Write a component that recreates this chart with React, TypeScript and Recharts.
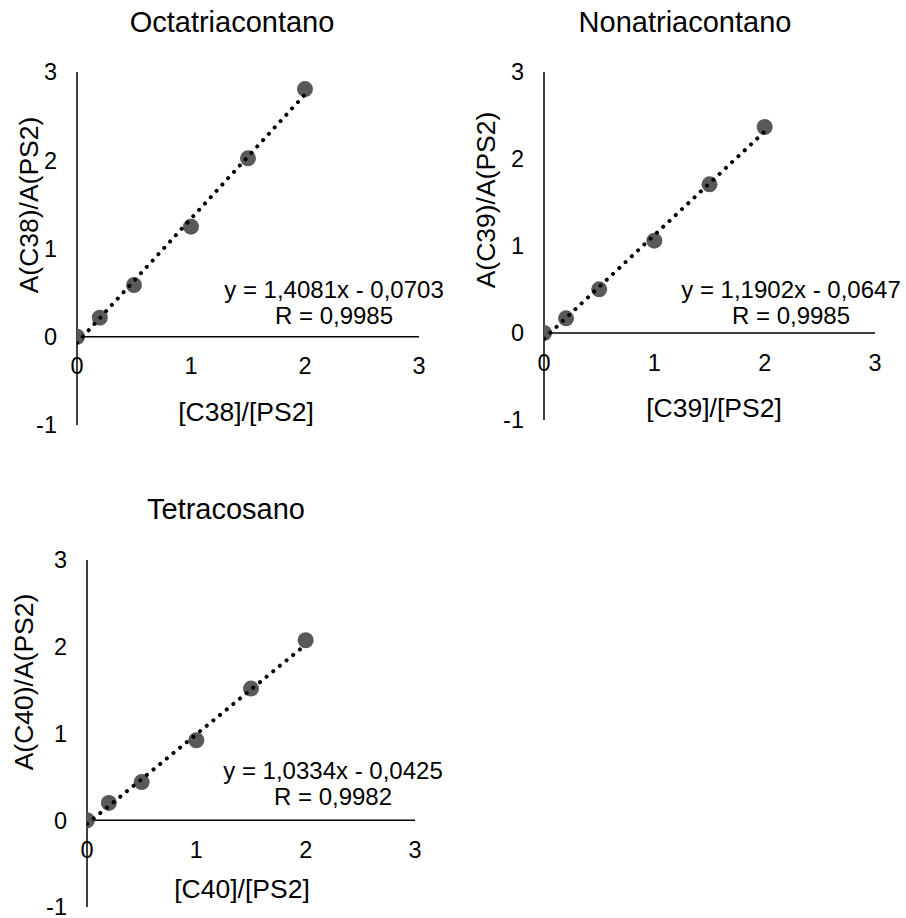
import { ScatterChart, Scatter, XAxis, YAxis, ReferenceLine, ReferenceDot } from 'recharts';

// dados
const concentrations = [0, 0.2, 0.5, 1, 1.5, 2];
const ratioC38 = [0, 0.216, 0.586, 1.247, 2.022, 2.807];
const ratioC39 = [0, 0.169, 0.502, 1.061, 1.709, 2.368];
const ratioC40 = [0, 0.2, 0.44, 0.922, 1.518, 2.075];

// linha de tendência (extremos x = 0 e x = 2)
const trendX = [0, 2];
const trendC38 = [-0.0703, 2.7459];
const trendC39 = [-0.0647, 2.3157];
const trendC40 = [-0.0425, 2.0243];

const xTicks = [0, 1, 2, 3];
const yTicks = [-1, 0, 1, 2, 3];

const titles = ['Octatriacontano', 'Nonatriacontano', 'Tetracosano'];
const xLabels = ['[C38]/[PS2]', '[C39]/[PS2]', '[C40]/[PS2]'];
const yLabels = ['A(C38)/A(PS2)', 'A(C39)/A(PS2)', 'A(C40)/A(PS2)'];
const equations = ['y = 1,4081x - 0,0703', 'y = 1,1902x - 0,0647', 'y = 1,0334x - 0,0425'];
const rValues = ['R = 0,9985', 'R = 0,9985', 'R = 0,9982'];

const FONT = '"Liberation Sans", Arial, sans-serif';

type Pos = [number, number];

interface Layout {
  left: number;
  top: number;
  width: number;
  height: number;
  margin: { top: number; right: number; bottom: number; left: number };
  title: Pos;
  xLabel: Pos;
  yLabel: Pos;
  eq: Pos;
}

const layouts: Layout[] = [
  { left: 0, top: 0, width: 453, height: 460, margin: { top: 72, right: 34, bottom: 35, left: 77 }, title: [232, 23], xLabel: [246, 413], yLabel: [30, 205], eq: [334, 303] },
  { left: 453, top: 0, width: 453, height: 460, margin: { top: 72, right: 31, bottom: 40, left: 91 }, title: [232, 23], xLabel: [261, 409], yLabel: [34, 200], eq: [338, 303] },
  { left: 0, top: 460, width: 453, height: 458, margin: { top: 100, right: 38, bottom: 11, left: 87 }, title: [226, 50], xLabel: [242, 430], yLabel: [25, 222], eq: [333, 324] },
];

const Caption = ({ pos, size, rotate, children }: any) => (
  <div
    style={{
      position: 'absolute',
      left: pos[0],
      top: pos[1],
      transform: `translate(-50%, -50%)${rotate ? ' rotate(-90deg)' : ''}`,
      fontFamily: FONT,
      fontSize: size,
      lineHeight: 1.1,
      color: '#000',
      whiteSpace: 'nowrap',
      textAlign: 'center',
    }}
  >
    {children}
  </div>
);

const tickFont = { fontSize: 23.5, fill: '#000', fontFamily: FONT };

function CalibrationChart({ index, values, trend }: { index: number; values: number[]; trend: number[] }) {
  const l = layouts[index];
  const points = concentrations.map((x, i) => ({ x, y: values[i] }));
  const trendPoints = trendX.map((x, i) => ({ x, y: trend[i] }));

  return (
    <div style={{ position: 'absolute', left: l.left, top: l.top, width: l.width, height: l.height }}>
      <ScatterChart width={l.width} height={l.height} margin={l.margin}>
        <XAxis type="number" dataKey="x" domain={[0, 3]} ticks={xTicks} allowDataOverflow hide />
        <YAxis type="number" dataKey="y" domain={[-1, 3]} ticks={yTicks} allowDataOverflow hide />
        <ReferenceLine x={0} stroke="#000" strokeWidth={1.5} />
        <ReferenceLine y={0} stroke="#000" strokeWidth={1.5} />
        {xTicks.map((t) => (
          <ReferenceDot key={'x' + t} x={t} y={0} r={0} fill="none" stroke="none"
            label={{ value: String(t), position: 'bottom', offset: 21, ...tickFont }} />
        ))}
        {yTicks.map((t) => (
          <ReferenceDot key={'y' + t} x={0} y={t} r={0} fill="none" stroke="none"
            label={{ value: String(t), position: 'left', offset: 20, ...tickFont }} />
        ))}
        <Scatter
          data={points}
          isAnimationActive={false}
          shape={(p: any) => <circle cx={p.cx} cy={p.cy} r={8} fill="#595959" />}
        />
        <Scatter
          data={trendPoints}
          isAnimationActive={false}
          line={{ stroke: '#000', strokeWidth: 4, strokeDasharray: '0.1 8.5', strokeLinecap: 'round' }}
          shape={() => <g />}
        />
      </ScatterChart>
      <Caption pos={l.title} size={29}>{titles[index]}</Caption>
      <Caption pos={l.xLabel} size={26.5}>{xLabels[index]}</Caption>
      <Caption pos={l.yLabel} size={26.5} rotate>{yLabels[index]}</Caption>
      <Caption pos={l.eq} size={24}>
        {equations[index]}
        <br />
        {rValues[index]}
      </Caption>
    </div>
  );
}

export default function App() {
  return (
    <div style={{ position: 'absolute', left: 0, top: 0, width: 906, height: 918, background: '#fff' }}>
      <CalibrationChart index={0} values={ratioC38} trend={trendC38} />
      <CalibrationChart index={1} values={ratioC39} trend={trendC39} />
      <CalibrationChart index={2} values={ratioC40} trend={trendC40} />
    </div>
  );
}
